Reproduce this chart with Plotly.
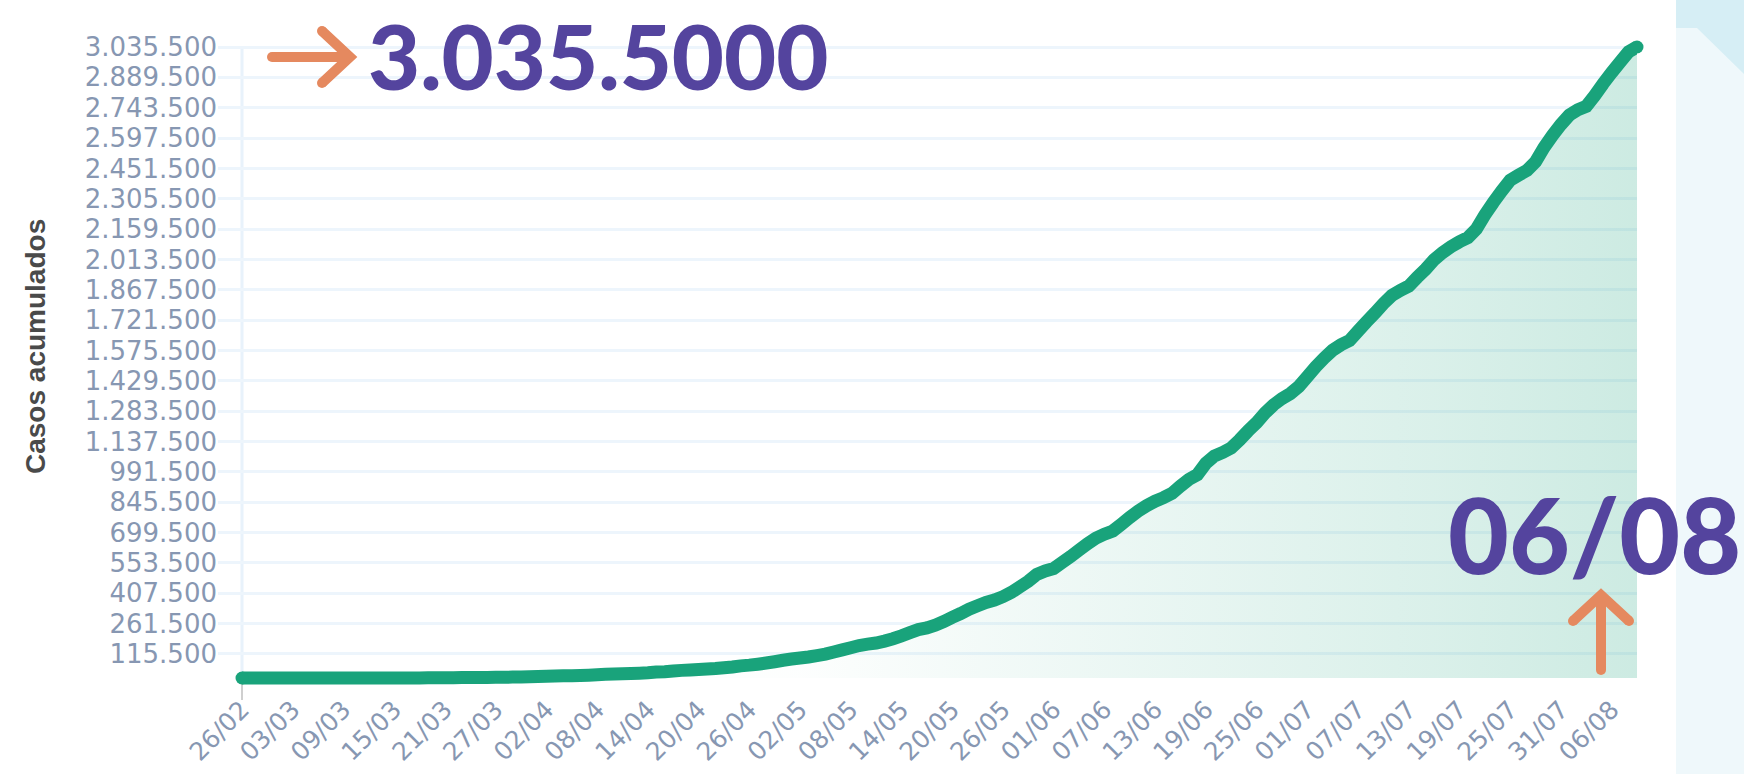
import pandas as pd
import plotly.graph_objects as go

# ---------------- data ----------------
start_date = "2020-02-26"
feb = [1, 1, 1, 2]
mar = [2, 2, 2, 3, 8, 13, 19, 25, 25, 34, 52, 77, 98, 121, 200, 234, 291, 428, 621, 904,
       1128, 1546, 1891, 2201, 2433, 2915, 3417, 3904, 4256, 4579, 5717]
apr = [6836, 8044, 9056, 10278, 11130, 12056, 13717, 15927, 17857, 19638, 20727, 22169,
       23430, 25262, 28320, 30425, 33682, 36599, 38654, 40581, 43079, 45757, 49492, 52995,
       58509, 61888, 66501, 71886, 78162, 85380]
may = [91299, 96396, 101147, 107780, 114715, 125218, 135106, 145328, 155939, 162699,
       168331, 177589, 188974, 202918, 218223, 233142, 241080, 254220, 271628, 291579,
       310087, 330890, 347398, 363211, 374898, 391222, 411821, 438238, 465166, 498440, 514849]
jun = [526447, 555383, 584016, 614941, 645771, 672846, 691758, 707412, 739503, 772416,
       802828, 828810, 850514, 867624, 888271, 923189, 955377, 978142, 1032913, 1067579,
       1085038, 1106470, 1145906, 1188631, 1228114, 1274974, 1313667, 1344143, 1368195, 1402041]
jul = [1448753, 1496858, 1539081, 1577004, 1603055, 1623284, 1668589, 1713160, 1755779,
       1800827, 1839850, 1864681, 1884967, 1926824, 1966748, 2012151, 2046328, 2074860,
       2098389, 2118646, 2159654, 2227514, 2287475, 2343366, 2394513, 2419091, 2442375,
       2483191, 2552265, 2610102, 2662485]
aug = [2707877, 2733677, 2750318, 2801921, 2859073, 2912212, 2962442, 3012412, 3035422]

cases = feb + mar + apr + may + jun + jul + aug
dates = pd.date_range(start_date, periods=len(cases), freq="D")

y_tick_vals = [115500 + 146000 * k for k in range(21)]
y_tick_text = [f"{v:,}".replace(",", ".") for v in y_tick_vals]
x_tick_dates = pd.date_range(start_date, "2020-08-06", freq="6D")
x_tick_text = [d.strftime("%d/%m") for d in x_tick_dates]

headline = "3.035.5000"
date_label = "06/08"
y_title = "Casos acumulados"

# ---------------- layout geometry (pixels) ----------------
W, H = 1744, 774
PL, PR = 218, 1637          # plot area left/right
PT, PB = 37, 688            # plot area top/bottom
X_FIRST_PX = 242            # position of first date
Y_ZERO_PX, Y_TOP_PX = 678, 47

ppd = (PR - X_FIRST_PX) / (len(cases) - 1)
x_range = [dates[0] - pd.Timedelta(days=(X_FIRST_PX - PL) / ppd), dates[-1]]
upp = y_tick_vals[-1] / (Y_ZERO_PX - Y_TOP_PX)
y_range = [-(PB - Y_ZERO_PX) * upp, y_tick_vals[-1] + (Y_TOP_PX - PT) * upp]


def px(x):
    return (x - PL) / (PR - PL)


def py(y):
    return (PB - y) / (PB - PT)


GREEN = "#19a37b"
ORANGE = "#e5895f"
PURPLE = "#54449e"
TICK_COLOR = "#8797b2"

fig = go.Figure()
fig.add_trace(go.Scatter(
    x=dates, y=cases, mode="lines",
    line=dict(color=GREEN, width=13, simplify=False),
    fill="tozeroy",
    fillgradient=dict(
        type="horizontal",
        colorscale=[[0, "rgba(26,163,124,0)"], [0.4, "rgba(26,163,124,0.01)"],
                    [0.55, "rgba(26,163,124,0.06)"], [0.7, "rgba(26,163,124,0.11)"],
                    [0.85, "rgba(26,163,124,0.16)"], [1, "rgba(26,163,124,0.22)"]],
    ),
    hoverinfo="skip",
))
fig.add_trace(go.Scatter(
    x=[dates[0], dates[-1]], y=[cases[0], cases[-1]], mode="markers",
    marker=dict(size=13, color=GREEN), cliponaxis=False, hoverinfo="skip",
))

shapes = []
# left axis line
shapes.append(dict(type="line", xref="x", yref="y", x0=dates[0], x1=dates[0],
                   y0=0, y1=y_tick_vals[-1], line=dict(color="#e8f2fb", width=3), layer="below"))
# small tick under first date
shapes.append(dict(type="line", xref="paper", yref="paper", x0=px(X_FIRST_PX), x1=px(X_FIRST_PX),
                   y0=py(680), y1=py(700), line=dict(color="#cfcfcf", width=2), layer="below"))
# right panel
shapes.append(dict(type="rect", xref="paper", yref="paper", x0=px(1676), x1=px(W + 2),
                   y0=py(H + 2), y1=py(-2), fillcolor="#eff8fb", line=dict(width=0), layer="below"))
shapes.append(dict(type="path", xref="paper", yref="paper",
                   path=f"M {px(1676)},{py(-2)} L {px(W+2)},{py(-2)} L {px(W+2)},{py(76)} "
                        f"L {px(1697)},{py(28)} L {px(1676)},{py(28)} Z",
                   fillcolor="#d6eef5", line=dict(width=0), layer="below"))


def seg_path(points):
    return " ".join(("M" if i == 0 else "L") + f" {px(x)},{py(y)}" for i, (x, y) in enumerate(points))


arrow_w = 10
# right arrow
shapes.append(dict(type="path", xref="paper", yref="paper",
                   path=seg_path([(272, 57), (350, 57)]), line=dict(color=ORANGE, width=arrow_w)))
shapes.append(dict(type="path", xref="paper", yref="paper",
                   path=seg_path([(322, 31), (350, 57), (322, 83)]), line=dict(color=ORANGE, width=arrow_w)))
# up arrow
shapes.append(dict(type="path", xref="paper", yref="paper",
                   path=seg_path([(1601, 670), (1601, 597)]), line=dict(color=ORANGE, width=arrow_w)))
shapes.append(dict(type="path", xref="paper", yref="paper",
                   path=seg_path([(1573, 621), (1601, 595), (1629, 621)]), line=dict(color=ORANGE, width=arrow_w)))
r = arrow_w / 2
for (cx, cy) in [(272, 57), (322, 31), (322, 83), (1601, 670), (1573, 621), (1629, 621)]:
    shapes.append(dict(type="circle", xref="paper", yref="paper",
                       x0=px(cx - r), x1=px(cx + r), y0=py(cy + r), y1=py(cy - r),
                       fillcolor=ORANGE, line=dict(width=0)))

annotations = [
    dict(text=headline, xref="paper", yref="paper", x=px(366), y=py(55),
         xanchor="left", yanchor="middle", showarrow=False,
         font=dict(family="Lato", size=90, color=PURPLE, weight=900)),
    dict(text=date_label, xref="paper", yref="paper", x=px(1743), y=py(533),
         xanchor="right", yanchor="middle", showarrow=False,
         font=dict(family="Lato", size=105, color=PURPLE, weight=900)),
    dict(text=y_title, xref="paper", yref="paper", x=px(35), y=py(347),
         xanchor="center", yanchor="middle", showarrow=False, textangle=-90,
         font=dict(family="Liberation Sans", size=28, color="#4a4a4a", weight="bold")),
]

fig.update_layout(
    width=W, height=H, autosize=False,
    margin=dict(l=PL, r=W - PR, t=PT, b=H - PB, pad=0),
    plot_bgcolor="white", paper_bgcolor="white",
    showlegend=False,
    shapes=shapes, annotations=annotations,
    xaxis=dict(
        type="date", range=x_range, tickmode="array",
        tickvals=list(x_tick_dates), ticktext=x_tick_text, tickangle=-45,
        tickfont=dict(family="DejaVu Sans", size=25, color=TICK_COLOR), automargin=False,
        showgrid=False, zeroline=False, showline=False, ticks="",
        ticklabelstandoff=1,
    ),
    yaxis=dict(
        range=y_range, tickmode="array", tickvals=y_tick_vals, ticktext=y_tick_text,
        tickfont=dict(family="DejaVu Sans", size=26, color=TICK_COLOR), automargin=False,
        showgrid=True, gridcolor="#edf5fc", gridwidth=3,
        zeroline=False, showline=False, ticks="",
        ticklabelstandoff=0,
    ),
)

fig.write_html(
    "out.html",
    config={"displayModeBar": False},
    post_script="document.body.style.margin='0px';document.body.style.overflow='hidden';",
)
